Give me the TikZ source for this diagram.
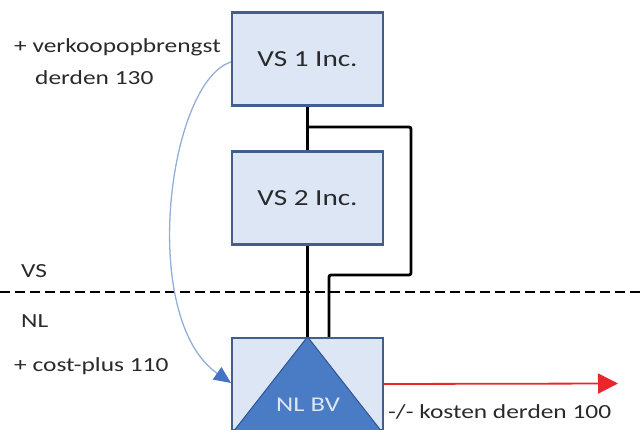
\documentclass[tikz,border=0pt]{standalone}
\usepackage{fontspec}
\setmainfont{Carlito}
\usetikzlibrary{arrows.meta}
\definecolor{boxfill}{HTML}{DCE6F4}
\definecolor{boxdraw}{HTML}{3F5F8C}
\definecolor{trifill}{HTML}{4A7CC6}
\definecolor{tridraw}{HTML}{2F5597}
\definecolor{txtgray}{HTML}{2A2A2A}
\definecolor{curveblue}{HTML}{94AED6}
\definecolor{tipblue}{HTML}{4472C4}
\definecolor{redline}{HTML}{E8262B}
\newcommand\stretchtxt[1]{\scalebox{1.27}[1]{#1}}
\begin{document}
\begin{tikzpicture}[x=1pt,y=-1pt,
  box/.style={draw=boxdraw, fill=boxfill, line width=2.4pt, minimum width=151pt, minimum height=93pt, inner sep=0pt,
    text=txtgray, font=\fontsize{23}{27}\selectfont},
  lbl/.style={anchor=west, inner sep=0pt, text=txtgray, font=\fontsize{20}{24}\selectfont},
  link/.style={line width=2.8pt, black},
  divider/.style={line width=2.8pt, black, dash pattern=on 10pt off 5pt}]
\useasboundingbox (0,0) rectangle (642,430);
% boxes
\node[box] (vs1) at (307.5,59) {\stretchtxt{VS 1 Inc.}};
\node[box] (vs2) at (307.5,198) {\stretchtxt{VS 2 Inc.}};
\node[box, minimum height=92pt] (nlbv) at (307.5,384) {};
\draw[fill=trifill, draw=tridraw, line width=1pt] (nlbv.north) -- ([xshift=2pt,yshift=-1pt]nlbv.south west) -- ([xshift=-2pt,yshift=-1pt]nlbv.south east) -- cycle;
\node[text=boxfill, font=\fontsize{21}{25}\selectfont, inner sep=0pt] (nltxt) at (308,405) {\stretchtxt{NL BV}};
% connectors
\coordinate (j1) at (308,127);
\draw[link] (vs1.south) -- (vs2.north);
\draw[link] (vs2.south) -- (nlbv.north);
\draw[link, rounded corners=2pt] (j1) -- (411,127) -- (411,275) -- (329,275) -- ([xshift=21.5pt]nlbv.north);
% divider
\coordinate (dl) at (0,292);
\coordinate (dr) at (642,292);
\draw[divider] (dl) -- (dr);
% blue curve
\coordinate (cstart) at (231,62);
\coordinate (cend) at (231,383);
\draw[curveblue, line width=1.3pt, -{Triangle[length=17pt,width=15pt,fill=tipblue,color=tipblue]}]
  (cstart) .. controls (168,82) and (138,318) .. (cend);
% red arrow
\coordinate (rend) at (618,383.5);
\draw[redline, line width=1.8pt, -{Triangle[length=20pt,width=20pt]}] (nlbv.east) -- (rend);
% labels
\node[lbl] (l1) at (14,47) {\stretchtxt{+ verkoopopbrengst}};
\node[lbl] (l2) at (35,78) {\stretchtxt{derden 130}};
\node[lbl] (l3) at (21,271) {\stretchtxt{VS}};
\node[lbl] (l4) at (21,321) {\stretchtxt{NL}};
\node[lbl] (l5) at (14,366) {\stretchtxt{+ cost-plus 110}};
\node[lbl] (l6) at (388,412) {\stretchtxt{-/- kosten derden 100}};
\end{tikzpicture}
\end{document}
